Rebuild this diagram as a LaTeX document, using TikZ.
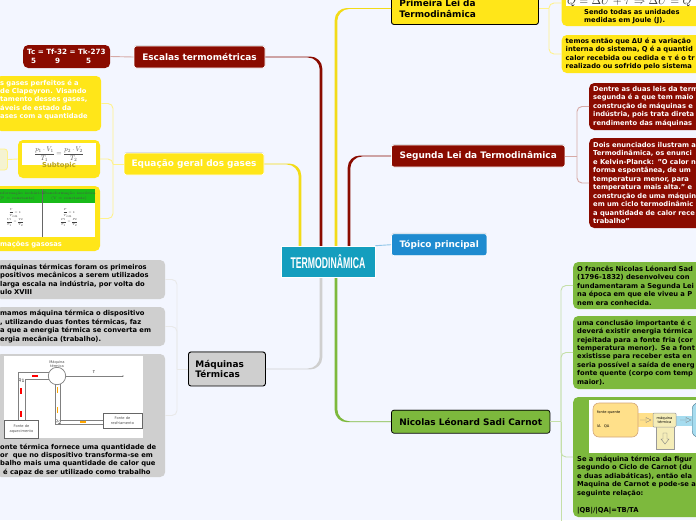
\documentclass[tikz,border=0pt]{standalone}
\usepackage{amsmath}
\usepackage{fontspec}
\setsansfont{DejaVu Sans}
\newfontfamily\titlefont{Liberation Sans}
\usepackage{tikz}
\usetikzlibrary{calc, positioning, shadows}
\definecolor{pagebg}{HTML}{F3F6FF}
\definecolor{wine}{HTML}{8A0B00}
\definecolor{sun}{HTML}{FFE619}
\definecolor{leaf}{HTML}{7DB93D}
\definecolor{sky}{HTML}{1E8BD0}
\definecolor{ash}{HTML}{CFCFCF}
\definecolor{teal}{HTML}{149EBE}
\definecolor{hot}{HTML}{FFE08A}
\definecolor{cold}{HTML}{A6DCEF}
\definecolor{beige}{HTML}{F5EDB8}
\definecolor{olive}{HTML}{B8A31F}
\newcommand{\limb}[4]{%
  \fill[#1] ($(#2)+(-1.3,0)$) [rounded corners=12pt] -- ($(#2 |- #3)+(-1.3,#4*.45)$) [sharp corners]
    -- ($(#3)+(0,#4*.45)$) -- ($(#3)+(0,-#4*.45)$) [rounded corners=12pt]
    -- ($(#2 |- #3)+(1.3,-#4*.45)$) [sharp corners] -- ($(#2)+(1.3,0)$) -- cycle;%
}
\tikzset{
  main/.style={rounded corners=2.5, draw=white, line width=.7, minimum height=22, inner sep=0,
               font=\fontsize{8.95}{10.8}\selectfont\sffamily\bfseries,
               drop shadow={shadow xshift=0, shadow yshift=-.8, opacity=.35}},
  mainblack/.style={main, draw=black, line width=.9, text=black, align=left},
  note/.style={rounded corners=5, inner xsep=4, inner ysep=0, align=left, anchor=west,
               font=\fontsize{6.75}{8.45}\selectfont\sffamily\bfseries},
  caption/.style={inner sep=0, font=\fontsize{6.75}{8.45}\selectfont\sffamily\bfseries},
  tiny/.style={inner sep=0, align=center, text=black!70, font=\fontsize{3.6}{4.6}\selectfont\sffamily},
  tablecell/.style={inner sep=0, align=center, text=black!75, font=\fontsize{3.7}{4.8}\selectfont},
  linkred/.style={draw=wine!35, line width=.9, rounded corners=5},
  linkyel/.style={draw=sun!50, line width=.9, rounded corners=5},
  linkash/.style={draw=ash!45, line width=.9, rounded corners=5},
  linkgrn/.style={draw=leaf!45, line width=.9, rounded corners=5},
  rail/.style={draw=black!50, line width=.7}
}
\begin{document}
\begin{tikzpicture}[x=1pt, y=-1pt]
  \useasboundingbox (0,0) rectangle (696,520);
  \clip (0,0) rectangle (696,520);
  \fill[pagebg] (0,0) rectangle (696,520);

  % central topic and where its branches start
  \coordinate (trunkescalas) at (321,247);
  \coordinate (trunkequacao) at (300,247);
  \coordinate (trunkprimeira) at (336,247);
  \coordinate (trunksegunda) at (349,247);
  \coordinate (trunkmaquinas) at (321,276);
  \coordinate (trunkcarnot) at (336,276);

  % main topics
  \node[main, fill=wine, text=white, minimum width=131] (escalas) at (199.5,57) {Escalas termométricas};
  \node[main, fill=sun, text=white, minimum width=140] (equacao) at (194,164) {Equação geral dos gases};
  \node[mainblack, fill=ash, text width=63, minimum height=34, inner xsep=7, anchor=west] (maquinas) at (188,369)
    {Máquinas\\Térmicas};
  \node[mainblack, fill=sun, text width=131, minimum height=32, inner xsep=8, anchor=west] (primeira) at (391,8.5)
    {Primeira Lei da\\Termodinâmica};
  \node[main, fill=wine, text=white, minimum width=173.5] (segunda) at (478.2,156) {Segunda Lei da Termodinâmica};
  \node[main, fill=sky, text=white, minimum width=95.5] (topico) at (439.2,244.7) {Tópico principal};
  \node[main, fill=leaf, text=black, draw=black, minimum width=158.5, minimum height=23] (carnot) at (470.7,421.7)
    {Nicolas Léonard Sadi Carnot};

  \limb{wine}{trunkescalas}{escalas.east}{1}
  \limb{sun!95!black}{trunkequacao}{equacao.east}{1}
  \limb{sun!95!black}{trunkprimeira}{primeira.west}{-1}
  \limb{wine}{trunksegunda}{segunda.west}{-1}
  \limb{ash}{trunkmaquinas}{maquinas.east}{-1}
  \limb{leaf}{trunkcarnot}{carnot.west}{1}

  \node[fill=teal, draw=white, line width=.6, minimum width=94, minimum height=31, inner sep=0,
        text=white, font=\fontsize{15.5}{15.5}\titlefont\bfseries] (termo) at (328,261.5)
    {\scalebox{.56}[1]{TERMODINÂMICA}};
  \draw[sky!50, line width=.9] (termo.north east) -- (topico.west);

  % Escalas
  \node[note, fill=wine, text=white, text width=79, minimum height=23, inner xsep=4,
        font=\fontsize{7.2}{8.8}\selectfont\sffamily\bfseries] (tabela) at (23,56.5)
    {Tc = Tf-32 = Tk-273\\\hspace*{4pt}5\hspace{19pt}9\hspace{26pt}5};
  \draw[linkred] (tabela.east) -- (escalas.west);

  % Equacao geral
  \coordinate (jgases) at (113,164);
  \node[note, fill=sun, text=white, text width=97, minimum height=55] (gases) at (-4,103.5)
    {s gases perfeitos é a\\de Clapeyron. Visando\\tamento desses gases,\\áveis de estado da\\ases com a quantidade\\~};
  \node[fill=sun, rounded corners=5, minimum width=82, minimum height=38, inner sep=0] (subtopico) at (59,159) {};
  \node[fill=white, minimum width=74, minimum height=22, inner sep=0, text=black!70] (clapeyron) at (59,154)
    {\scalebox{.68}{$\dfrac{p_1\cdot V_1}{T_1}=\dfrac{p_2\cdot V_2}{T_2}$}};
  \node[caption, text=olive, below=2.8 of clapeyron] (subtexto) {Subtopic};
  \node[fill=sun!20!pagebg, draw=sun!50, line width=.9, rounded corners=3, minimum width=17, minimum height=21, inner sep=0] (subfolha) at (-1,159.5) {};
  \node[fill=sun, rounded corners=5, minimum width=110, minimum height=65, inner sep=0] (transf) at (45,218.5) {};
  \fill[white] (-5,189) rectangle (95,237);
  \fill[green!70!black!90] (-5,189) rectangle (95,203);
  \draw[black!60, line width=.6] (42.5,189) -- (42.5,237);
  \node[tablecell, text=black!70, anchor=west] (isob) at (0,194) {nformação isobárica};
  \node[tablecell, text=black!70] (isobp) at (17,198.8) {(P = constante)};
  \node[tablecell, text=black!70] (isoc) at (69,196.4) {Transformação isocórica\\(V = constante)};
  \node[tablecell] (isobf) at (15,217.5) {\scalebox{.58}{$\dfrac{V}{T}=k$}\\ou\\\scalebox{.58}{$\dfrac{V_1}{T_1}=\dfrac{V_2}{T_2}$}};
  \node[tablecell] (isocf) at (69,217.5) {\scalebox{.58}{$\dfrac{P}{T}=k$}\\ou\\\scalebox{.58}{$\dfrac{P_1}{T_1}=\dfrac{P_2}{T_2}$}};
  \node[caption, text=white, anchor=west] (gasosas) at (0,244.5) {mações gasosas};
  \draw[linkyel] (equacao.west) -- (jgases);
  \foreach \folha in {gases,subtopico,transf}
    \draw[linkyel] (jgases) |- (\folha.east);
  \draw[linkyel] (subfolha.east) -- (subtopico.west);

  % Maquinas
  \coordinate (jmaq) at (177,369);
  \node[note, fill=ash, text=black, text width=161, minimum height=39] (primeiros) at (-4,279.5)
    {máquinas térmicas foram os primeiros\\positivos mecânicos a serem utilizados\\larga escala na indústria, por volta do\\ulo XVIII};
  \node[note, fill=ash, text=black, text width=161, minimum height=39] (dispositivo) at (-4,326.5)
    {mamos máquina térmica o dispositivo\\, utilizando duas fontes térmicas, faz\\a que a energia térmica se converta em\\ergia mecânica (trabalho).};
  \node[note, fill=ash, text=black, text width=161, minimum height=123] (calor) at (-4,415.5) {};
  \node[caption, anchor=south west, align=left, text=black] (calortexto) at (0,476)
    {onte térmica fornece uma quantidade de\\or\ \ que no dispositivo transforma-se em\\balho mais uma quantidade de calor que\\\hspace*{3pt}é capaz de ser utilizado como trabalho};
  \fill[white] (4,356) rectangle (143,438);
  \draw[linkash] (maquinas.west) -- (jmaq);
  \foreach \folha in {primeiros,dispositivo,calor}
    \draw[linkash] (jmaq) |- (\folha.east);

  % figura da maquina termica
  \node[circle, draw=black!50, fill=white, line width=.7, minimum size=17.4, inner sep=0] (motor) at (57,376) {};
  \node[tiny, above=1 of motor] (motortxt) {Máquina\\térmica};
  \node[draw=black!60, fill=white, line width=.6, minimum width=34.5, minimum height=18, tiny] (quente) at (21.5,429) {Fonte de\\aquecimento};
  \node[draw=black!60, fill=white, line width=.6, minimum width=39, minimum height=15, tiny] (fria) at (122.5,420.5) {Fonte de\\resfriamento};
  \coordinate (fimt) at (123,376);
  \node[tiny, text=black] (letrat) at (94,372) {T};
  \node[tiny, text=black] (letraq) at (22,380.7) {Q$_1$};
  \node[tiny, text=black] (letrar) at (58.5,422) {Q$_2$};
  \draw[rail] (motor.east) -- (fimt);
  \fill[black!70] (fimt) circle (.7);
  \draw[rail] (49,372.7) -| (18,420);
  \draw[rail] (49,379) -| (25,420);
  \draw[rail] (55,384) |- (103,424);
  \draw[rail] (60,384) |- (103,420);
  \foreach \y in {388,411}
    \draw[red, line width=2] (21.3,\y) -- ++(0,6);
  \draw[red, line width=2] (32,376) -- (38,376);
  \foreach \y in {387,407}
    \draw[orange!70!yellow, line width=1.1] (57.5,\y) -- ++(0,6);
  \draw[orange!70!yellow, line width=1.1] (80,422) -- (86,422);

  % Primeira Lei
  \coordinate (jprimeira) at (549,8.5);
  \node[note, fill=sun, text width=140, minimum height=46] (unidades) at (561.5,3) {};
  \fill[white] (566,-5) rectangle (700,6);
  \node[inner sep=0, anchor=base west, text=black!80] (formula) at (567,4) {\scalebox{1.15}{$Q=\Delta U+\tau\Rightarrow\Delta U=Q$}};
  \node[caption, anchor=west, align=left, text=black] (unidtexto) at (584,16.5) {Sendo todas as unidades\\medidas em Joule (J).};
  \node[note, fill=sun, text=black, text width=140, minimum height=38] (variacao) at (561.5,54)
    {temos então que ΔU é a variação\\interna do sistema, Q é a quantid\\calor recebida ou cedida e τ é o tr\\realizado ou sofrido pelo sistema};
  \draw[linkyel] (primeira.east) -- (jprimeira);
  \foreach \folha in {unidades,variacao}
    \draw[linkyel] (jprimeira) |- (\folha.west);

  % Segunda Lei
  \coordinate (jsegunda) at (577,156);
  \node[note, fill=wine, text=white, text width=130, minimum height=47] (leis) at (589,106.5)
    {Dentre as duas leis da term\\segunda é a que tem maio\\construção de máquinas e\\indústria, pois trata direta\\rendimento das máquinas};
  \node[note, fill=wine, text=white, text width=130, minimum height=90] (enunciados) at (589,183)
    {Dois enunciados ilustram a\\Termodinâmica, os enunci\\e Kelvin-Planck: "O calor n\\forma espontânea, de um\\temperatura menor, para\\temperatura mais alta." e\\construção de uma máquin\\em um ciclo termodinâmic\\a quantidade de calor rece\\trabalho"};
  \draw[linkred] (segunda.east) -- (jsegunda);
  \foreach \folha in {leis,enunciados}
    \draw[linkred] (jsegunda) |- (\folha.west);

  % Carnot
  \coordinate (jcarnot) at (561,421.7);
  \coordinate (fimcarnot) at (561,530);
  \node[note, fill=leaf, text=black, text width=130, minimum height=47] (frances) at (573,285.5)
    {O francês Nicolas Léonard Sad\\(1796-1832) desenvolveu con\\fundamentaram a Segunda Lei\\na época em que ele viveu a P\\nem era conhecida.};
  \node[note, fill=leaf, text=black, text width=130, minimum height=73] (conclusao) at (573,352.5)
    {uma conclusão importante é c\\deverá existir energia térmica\\rejeitada para a fonte fria (cor\\temperatura menor). Se a font\\existisse para receber esta en\\seria possível a saída de energ\\fonte quente (corpo com temp\\maior).};
  \node[note, fill=leaf, text=black, text width=130, minimum height=120] (ciclo) at (573,457) {};
  \node[caption, anchor=south west, align=left, text=black] (ciclotexto) at (577,514)
    {Se a máquina térmica da figur\\segundo o Ciclo de Carnot (du\\e duas adiabáticas), então ela\\Maquina de Carnot e pode-se a\\seguinte relação:\\~\\|QB|/|QA|=TB/TA};
  \draw[linkgrn] (carnot.east) -- (jcarnot);
  \foreach \folha in {frances,conclusao,ciclo}
    \draw[linkgrn] (jcarnot) |- (\folha.west);
  \draw[linkgrn] (jcarnot) -- (fimcarnot);

  % figura de Carnot
  \fill[white] (589,400) rectangle (700,453);
  \fill[hot] (636,413) rectangle (654,427);
  \fill[cold] (675,416) rectangle (694,426);
  \node[draw=brown!70, fill=hot, line width=.6, rounded corners=6, minimum width=45, minimum height=34, inner sep=0] (fonte) at (615.5,420) {};
  \node[draw=black!40, fill=beige, line width=.5, minimum width=18, minimum height=35, inner sep=0, anchor=north] (saida) at (665,414) {};
  \node[draw=black!40, fill=beige, line width=.5, rounded corners=1, minimum width=23, minimum height=14, tiny, text=black] (maqtermica) at (664.5,420) {máquina\\térmica};
  \node[draw=cyan!50!black, fill=cold, rounded corners=6, minimum width=20, minimum height=34, inner sep=0, anchor=west] (fonte2) at (692,420) {};
  \node[tiny, anchor=west, text=black] (fontetxt) at (597,412) {fonte quente};
  \node[tiny, anchor=west, text=black] (qatxt) at (597,426) {lA\ \ \ QA};
  \draw[black!50, line width=.4] (640,420) -- (645,420) (646,417.5) -- (651,420) -- (646,422.5) -- cycle;
  \draw[black!50, line width=.4] (680,420) -- (685,420) (686,417.5) -- (691,420) -- (686,422.5) -- cycle;
  \draw[black!50, line width=.4] (663,433) -- (663,439) -- (661,439) -- (665,444) -- (669,439) -- (667,439) -- (667,433) -- cycle;
\end{tikzpicture}
\end{document}
